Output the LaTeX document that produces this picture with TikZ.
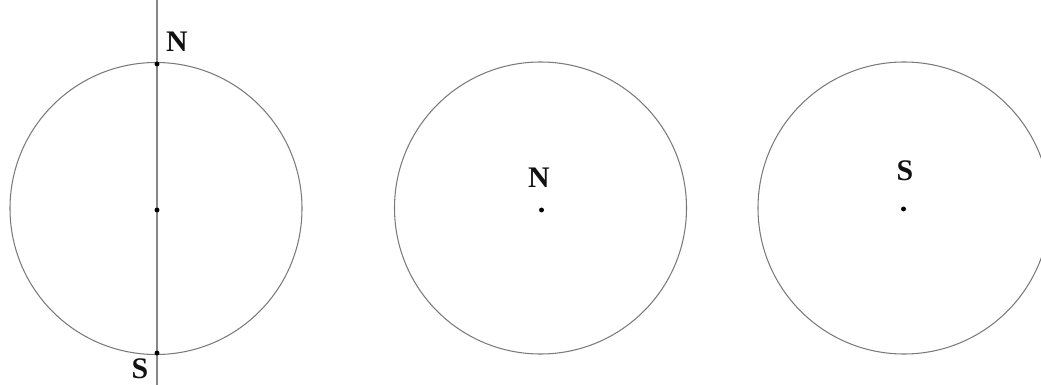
\documentclass[tikz,border=0pt]{standalone}
\usepackage{fontspec}
\setmainfont{Liberation Serif}
\usetikzlibrary{positioning}
\definecolor{rim}{HTML}{7A7A7A}
\definecolor{txt}{HTML}{111111}

\begin{document}
\begin{tikzpicture}[
  x=0.02cm, y=-0.02cm,
  sphere/.style={draw=rim, line width=0.6pt},
  axis/.style={draw=rim!90, line width=0.6pt},
  pole/.style={font=\bfseries\fontsize{17}{17}\selectfont, text=txt, inner sep=0pt},
  spot/.style={circle, fill=black, inner sep=0pt, minimum size=2.8pt},
]
\useasboundingbox (0,0) rectangle (1041,385);
\clip (0,0) rectangle (1041,385);

% side view
\coordinate (c1) at (156,208.5);
\draw[sphere] (c1) circle [radius=146];
\coordinate (axtop) at (157,0);
\coordinate (axbot) at (157,385);
\draw[axis] (axtop) -- (axbot);
\node[spot] (n1) at (157,64) {};
\node[spot] (m1) at (157,210) {};
\node[spot] (s1) at (157,353) {};
\node[pole] (ln1) at (177,42) {N};
\node[pole] (ls1) at (140,369) {S};

% seen from north
\coordinate (c2) at (540.5,208);
\draw[sphere] (c2) circle [radius=146];
\node[spot] (m2) at (541.5,210) {};
\node[pole] (ln2) at (539,178) {N};

% seen from south
\coordinate (c3) at (904,208);
\draw[sphere] (c3) circle [radius=146];
\node[spot] (m3) at (903.5,209) {};
\node[pole] (ls3) at (905,171) {S};

\end{tikzpicture}
\end{document}
